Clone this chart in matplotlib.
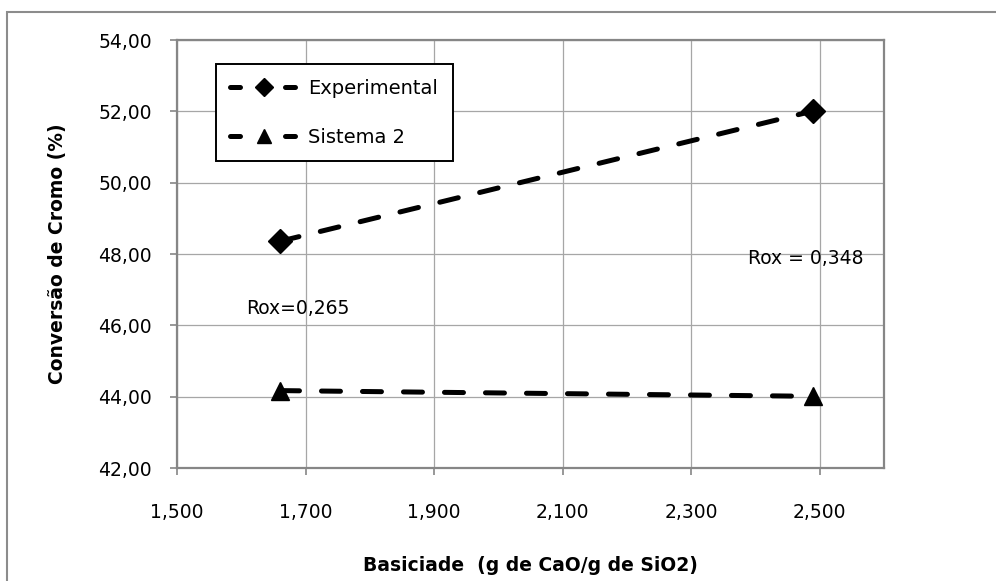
import matplotlib
matplotlib.use("Agg")
import matplotlib.pyplot as plt
from matplotlib.patches import Rectangle
from matplotlib.lines import Line2D

# dados
basicidade = [1.661, 2.49]
experimental = [48.36, 52.01]
sistema2 = [44.17, 44.01]

x_ticks = [1.5, 1.7, 1.9, 2.1, 2.3, 2.5]
x_labels = ["1,500", "1,700", "1,900", "2,100", "2,300", "2,500"]
y_ticks = [42, 44, 46, 48, 50, 52, 54]
y_labels = ["42,00", "44,00", "46,00", "48,00", "50,00", "52,00", "54,00"]

anotacoes = [("Rox=0,265", 1.688, 46.46), ("Rox = 0,348", 2.478, 47.86)]

plt.rcParams["font.family"] = ["DejaVu Sans"]

fig = plt.figure(figsize=(9.96, 5.81), dpi=100)
ax = fig.add_axes([177 / 996, 1 - 468 / 581, 707 / 996, 428 / 581])

estilo = dict(color="black", lw=3.6, dashes=(3.8, 4.4), dash_capstyle="round")
ax.plot(basicidade, experimental, marker="D", ms=12, **estilo)
ax.plot(basicidade, sistema2, marker="^", ms=13, **estilo)

for texto, x, y in anotacoes:
    ax.text(x, y, texto, ha="center", va="center", fontsize=13.5)

ax.set_xlim(1.5, 2.6)
ax.set_ylim(42, 54)
ax.set_xticks(x_ticks)
ax.set_xticklabels(x_labels)
ax.set_yticks(y_ticks)
ax.set_yticklabels(y_labels)
ax.tick_params(axis="both", labelsize=13.5, length=5, width=1.2, color="#868686", direction="out")
ax.tick_params(axis="x", pad=20)
ax.tick_params(axis="y", pad=13)
ax.grid(True, color="#a6a6a6", lw=0.9)
ax.set_axisbelow(True)
for s in ax.spines.values():
    s.set_color("#868686")
    s.set_linewidth(1.6)

ax.set_ylabel("Conversão de Cromo (%)", fontsize=13.5, fontweight="bold")
ax.set_xlabel("Basiciade  (g de CaO/g de SiO2)", fontsize=13.5, fontweight="bold")
ax.yaxis.set_label_coords(-0.155, 0.5)
ax.xaxis.set_label_coords(0.5, -0.205)

# legenda com traço - marcador - traço
leg_estilo = dict(color="black", lw=3.6, dashes=(2.0, 9.0), dash_capstyle="round")
handles = [Line2D([], [], marker="D", ms=9, **leg_estilo),
           Line2D([], [], marker="^", ms=10, **leg_estilo)]
leg = ax.legend(handles, ["Experimental", "Sistema 2"], loc="upper left",
                bbox_to_anchor=(0.055, 0.944), borderaxespad=0,
                fontsize=14, fancybox=False, edgecolor="black", handlelength=3.4,
                handletextpad=0.6, labelspacing=1.55, borderpad=0.75, framealpha=1)
leg.get_frame().set_linewidth(1.4)

# moldura externa do gráfico
fig.add_artist(Rectangle((7 / 996, -0.1), 2, 1 - 12 / 581 + 0.1, transform=fig.transFigure,
                         fill=False, edgecolor="#8c8c8c", lw=1.5))

plt.savefig("out.png", dpi=100)
plt.close()
